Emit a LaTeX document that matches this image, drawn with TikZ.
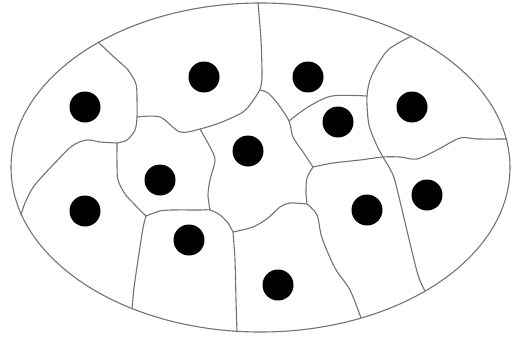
\documentclass[tikz,border=0pt]{standalone}
\definecolor{wallgray}{RGB}{115,115,115}
\begin{document}
\begin{tikzpicture}[x=1pt,y=-1pt,
  wall/.style={draw=wallgray,line width=1.1pt},
  dot/.style={circle,fill=black,draw=none,minimum size=31pt,inner sep=0pt}]
\useasboundingbox (0,0) rectangle (511,337);
\fill[white] (0,0) rectangle (511,337);
% junctions
\coordinate (J1) at (98,42);
\coordinate (J2) at (137,117);
\coordinate (J3) at (117,143);
\coordinate (J4) at (21,215);
\coordinate (J5) at (146,216);
\coordinate (J6) at (132,309);
\coordinate (J7) at (200,129);
\coordinate (J8) at (210,210);
\coordinate (J9) at (233,232);
\coordinate (J10) at (237,332);
\coordinate (J11) at (260,90);
\coordinate (J12) at (258,3);
\coordinate (J13) at (289,121);
\coordinate (J14) at (367,96);
\coordinate (J15) at (412,36);
\coordinate (J16) at (313,167);
\coordinate (J17) at (383,157);
\coordinate (J18) at (507,139);
\coordinate (J19) at (307,204);
\coordinate (J20) at (361,318);
\coordinate (J21) at (425,291);
% outer membrane
\draw[wall] (260.5,167.5) ellipse [x radius=249.5, y radius=164.5];
% cell walls
\draw[wall] plot[smooth,tension=0.5] coordinates {(J1) (115,58) (128,70) (136,84) (137,100) (J2) (135,130) (127,140) (J3)};
\draw[wall] plot[smooth,tension=0.5] coordinates {(J3) (100,142) (87,140) (72,146) (52,166) (34,186) (25,203) (J4)};
\draw[wall] plot[smooth,tension=0.5] coordinates {(J3) (117,165) (118,180) (125,194) (135,205) (J5)};
\draw[wall] plot[smooth,tension=0.5] coordinates {(J5) (143,228) (138,260) (134,288) (J6)};
\draw[wall] plot[smooth,tension=0.5] coordinates {(J2) (160,117) (180,132) (J7) (222,122) (243,112) (252,102) (J11)};
\draw[wall] plot[smooth,tension=0.5] coordinates {(J12) (261,40) (262,77) (J11)};
\draw[wall] plot[smooth,tension=0.5] coordinates {(J7) (210,147) (215,160) (210,180) (208,195) (J8)};
\draw[wall] plot[smooth,tension=0.5] coordinates {(J5) (160,211) (173,210) (200,210) (J8) (220,215) (228,223) (J9)};
\draw[wall] plot[smooth,tension=0.5] coordinates {(J9) (235,260) (236,300) (J10)};
\draw[wall] plot[smooth,tension=0.5] coordinates {(J9) (253,227) (268,218) (280,207) (290,203) (J19)};
\draw[wall] plot[smooth,tension=0.5] coordinates {(J16) (307,178) (306,192) (J19)};
\draw[wall] plot[smooth,tension=0.5] coordinates {(J19) (317,215) (322,238) (335,268) (350,290) (J20)};
\draw[wall] plot[smooth,tension=0.5] coordinates {(J11) (268,93) (278,104) (J13) (293,137) (303,152) (J16)};
\draw[wall] plot[smooth,tension=0.5] coordinates {(J13) (308,107) (332,96) (J14)};
\draw[wall] plot[smooth,tension=0.5] coordinates {(J15) (388,50) (372,75) (J14) (369,125) (378,148) (J17) (393,175) (399,197) (408,235) (418,275) (J21)};
\draw[wall] plot[smooth,tension=0.5] coordinates {(J16) (333,163) (360,160) (J17) (400,157) (417,159) (437,150) (460,138) (477,139) (J18)};
% nuclei
\node[dot] (d1) at (85,107) {};
\node[dot] (d2) at (204,77) {};
\node[dot] (d3) at (308,77) {};
\node[dot] (d4) at (338,122) {};
\node[dot] (d5) at (412,107) {};
\node[dot] (d6) at (248,151) {};
\node[dot] (d7) at (160,180) {};
\node[dot] (d8) at (85,211) {};
\node[dot] (d9) at (189,240) {};
\node[dot] (d10) at (278,285) {};
\node[dot] (d11) at (367,210) {};
\node[dot] (d12) at (427,195) {};
\end{tikzpicture}
\end{document}
